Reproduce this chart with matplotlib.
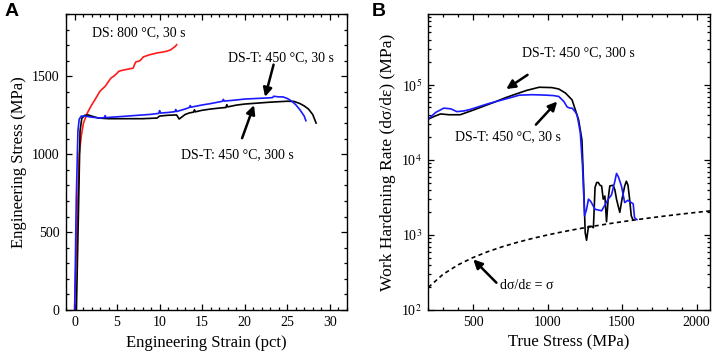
import numpy as np
import matplotlib
matplotlib.use("Agg")
import matplotlib.pyplot as plt
from matplotlib.ticker import MultipleLocator, FixedLocator, FixedFormatter, LogLocator, NullFormatter

plt.rcParams['font.family'] = ['Liberation Serif', 'DejaVu Serif']
plt.rcParams['mathtext.fontset'] = 'stix'

# ---------------- Panel A data: engineering stress-strain ----------------
ds_strain = [0.0, 0.27, 0.55, 0.8, 1.05, 1.5, 2.0, 2.4, 3.0, 3.6, 4.3, 4.6, 5.0, 5.2, 5.5, 6.2, 6.9,
             7.05, 7.2, 7.7, 8.1, 8.8, 9.7, 10.3, 10.9, 11.3, 11.6, 11.9, 12.0]
ds_stress = [0, 500, 1000, 1120, 1200, 1264, 1315, 1350, 1405, 1436, 1490, 1500, 1520, 1532, 1537, 1545, 1553,
             1575, 1592, 1600, 1625, 1638, 1650, 1655, 1662, 1670, 1682, 1695, 1703]

t30_strain = [0.02, 0.2, 0.4, 0.55, 0.8, 1.2, 2.0, 3.0, 3.5, 3.6, 3.7, 5.0, 7.0, 9.0, 9.9, 10.0, 10.1, 11.0,
              11.8, 11.9, 12.0, 13.0, 13.5, 13.6, 13.7, 15.0, 16.0, 17.4, 17.5, 17.6, 19.0, 20.0, 21.5, 23.0,
              23.3, 23.4, 24.0, 24.5, 25.0, 25.5, 26.0, 26.5, 27.0, 27.2]
t30_stress = [0, 700, 1150, 1225, 1245, 1245, 1238, 1232, 1235, 1248, 1235, 1240, 1248, 1256, 1262, 1280, 1264, 1268,
              1273, 1287, 1274, 1290, 1300, 1312, 1302, 1316, 1325, 1340, 1352, 1341, 1348, 1354, 1358, 1362,
              1364, 1372, 1368, 1368, 1358, 1342, 1318, 1285, 1245, 1215]

t300_strain = [0.22, 0.45, 0.65, 0.85, 1.2, 1.6, 2.0, 2.8, 4.0, 6.0, 8.0, 9.7, 10.0, 11.0, 12.0, 12.3, 12.6,
               13.0, 13.5, 14.0, 14.1, 14.2, 15.0, 16.0, 17.0, 17.8, 17.9, 18.0, 18.2, 19.0, 20.0, 21.0, 22.0,
               23.0, 24.0, 25.0, 25.8, 26.5, 27.0, 27.5, 28.0, 28.4]
t300_stress = [0, 600, 1150, 1230, 1250, 1252, 1245, 1232, 1228, 1228, 1228, 1232, 1245, 1250, 1252, 1226, 1238,
               1255, 1265, 1270, 1285, 1272, 1282, 1290, 1296, 1300, 1318, 1304, 1306, 1315, 1322, 1326, 1330,
               1334, 1337, 1340, 1339, 1325, 1310, 1290, 1255, 1200]

# ---------------- Panel B data: work hardening rate vs true stress ----------------
wh300_stress = [200, 240, 282, 340, 414, 500, 635, 723, 856, 944, 1030, 1076, 1120, 1165, 1209, 1231, 1242, 1253,
                1262, 1275, 1297, 1308, 1319, 1330, 1341, 1352, 1363, 1374, 1385, 1396, 1407, 1418, 1440, 1452,
                1463, 1485, 1500, 1518, 1529, 1540, 1551, 1562, 1573]
wh300_rate = [3.5e4, 3.8e4, 4.1e4, 4.0e4, 4.0e4, 4.6e4, 5.8e4, 6.8e4, 8.4e4, 9.3e4, 9.2e4, 8.8e4, 7.8e4, 6.3e4, 3.4e4,
              1.85e4, 4.9e3, 1.07e3, 8.5e2, 1.3e3, 1.3e3, 1.25e3, 4.3e3, 5.0e3, 5.0e3, 4.6e3, 4.5e3, 3.0e3, 3.3e3,
              1.5e3, 3.0e3, 4.5e3, 4.6e3, 4.0e3, 3.0e3, 2.0e3, 3.0e3, 4.5e3, 5.2e3, 4.6e3, 3.0e3, 1.8e3, 1.6e3]

wh30_stress = [200, 250, 304, 350, 392, 440, 480, 600, 745, 812, 900, 988, 1040, 1076, 1110, 1131, 1150, 1165,
               1185, 1198, 1210, 1220, 1235, 1249, 1262, 1275, 1290, 1319, 1363, 1385, 1407, 1429, 1450, 1463,
               1475, 1496, 1518, 1540, 1562, 1575, 1584, 1600]
wh30_rate = [3.5e4, 4.3e4, 4.9e4, 4.8e4, 4.4e4, 4.5e4, 4.7e4, 5.6e4, 6.7e4, 7.3e4, 7.4e4, 7.3e4, 7.2e4, 7.0e4, 6.0e4,
             5.1e4, 4.9e4, 4.9e4, 4.4e4, 4.0e4, 3.0e4, 2.3e4, 8.2e3, 1.8e3, 2.2e3, 3.0e3, 2.8e3, 2.2e3, 2.1e3, 2.5e3,
             3.0e3, 3.4e3, 5.0e3, 6.6e3, 6.0e3, 4.5e3, 2.7e3, 2.9e3, 2.7e3, 2.6e3, 1.7e3, 1.6e3]

# Considere criterion line dσ/dε = σ
consid_stress = [200, 300, 400, 500, 600, 700, 800, 900, 1000, 1100, 1200, 1300, 1400, 1500,
                 1600, 1700, 1800, 1900, 2000, 2100]
consid_rate = list(consid_stress)

fig = plt.figure(figsize=(7.13, 3.6), dpi=100)
axA = fig.add_axes([0.0926, 0.1389, 0.3937, 0.8222])
axB = fig.add_axes([0.6007, 0.1389, 0.3950, 0.8222])

TICK_FS = 10
LAB_FS = 12
ANN_FS = 10

for ax in (axA, axB):
    for s in ax.spines.values():
        s.set_linewidth(1.0)
    ax.tick_params(which='both', direction='in', top=True, right=True, labelsize=TICK_FS, width=0.9, pad=4.5)
    ax.tick_params(which='major', length=4.5)
    ax.tick_params(which='minor', length=2.3)

# ---- Panel A ----
axA.plot(ds_strain, ds_stress, color='#ff1a1a', lw=1.2)
axA.plot(t300_strain, t300_stress, color='black', lw=1.2)
axA.plot(t30_strain, t30_stress, color='#1a1aff', lw=1.2)
axA.set_xlim(-1, 32)
axA.set_ylim(0, 1900)
axA.xaxis.set_major_locator(MultipleLocator(5))
axA.xaxis.set_minor_locator(MultipleLocator(1))
axA.yaxis.set_major_locator(MultipleLocator(500))
axA.yaxis.set_minor_locator(MultipleLocator(100))
axA.set_xlabel('Engineering Strain (pct)', fontsize=LAB_FS)
axA.set_ylabel('Engineering Stress (MPa)', fontsize=LAB_FS)

arrow = dict(arrowstyle='-|>', color='black', lw=1.8, mutation_scale=13, shrinkA=0, shrinkB=0)
axA.text(2.1, 1780, 'DS: 800 °C, 30 s', fontsize=ANN_FS, va='center', ha='left')
axA.text(18.1, 1620, 'DS-T: 450 °C, 30 s', fontsize=ANN_FS, va='center', ha='left')
axA.annotate('', xy=(22.4, 1368), xytext=(23.4, 1575), arrowprops=arrow)
axA.text(12.5, 996, 'DS-T: 450 °C, 300 s', fontsize=ANN_FS, va='center', ha='left')
axA.annotate('', xy=(21.1, 1315), xytext=(19.7, 1103), arrowprops=arrow)

# ---- Panel B ----
axB.plot(consid_stress, consid_rate, color='black', lw=1.2, ls=(0, (2.5, 2)))
axB.plot(wh300_stress, wh300_rate, color='black', lw=1.2)
axB.plot(wh30_stress, wh30_rate, color='#1a1aff', lw=1.2)
axB.set_yscale('log')
axB.set_xlim(200, 2090)
axB.set_ylim(100, 8.8e5)
axB.xaxis.set_major_locator(MultipleLocator(500))
axB.xaxis.set_minor_locator(MultipleLocator(100))
axB.yaxis.set_major_locator(FixedLocator([1e2, 1e3, 1e4, 1e5]))
axB.yaxis.set_major_formatter(FixedFormatter([r'10$^{2}$', r'10$^{3}$', r'10$^{4}$', r'10$^{5}$']))
axB.yaxis.set_minor_locator(LogLocator(base=10, subs=np.arange(2, 10)))
axB.yaxis.set_minor_formatter(NullFormatter())
axB.set_xlabel('True Stress (MPa)', fontsize=LAB_FS)
axB.set_ylabel('Work Hardening Rate (dσ/dε) (MPa)', fontsize=12.6)

axB.text(831, 2.67e5, 'DS-T: 450 °C, 300 s', fontsize=ANN_FS, va='center', ha='left')
axB.annotate('', xy=(723, 8.8e4), xytext=(866, 1.36e5), arrowprops=arrow)
axB.text(381, 2.06e4, 'DS-T: 450 °C, 30 s', fontsize=ANN_FS, va='center', ha='left')
axB.annotate('', xy=(1065, 6.0e4), xytext=(922, 2.95e4), arrowprops=arrow)
axB.text(681, 209, 'dσ/dε = σ', fontsize=ANN_FS, va='center', ha='left')
axB.annotate('', xy=(502, 472), xytext=(657, 231), arrowprops=arrow)

fig.text(0.006, 0.992, 'A', fontsize=14, fontweight='bold', family='Liberation Sans', va='top', ha='left')
fig.text(0.522, 0.992, 'B', fontsize=14, fontweight='bold', family='Liberation Sans', va='top', ha='left')

fig.savefig('out.png', dpi=100)
